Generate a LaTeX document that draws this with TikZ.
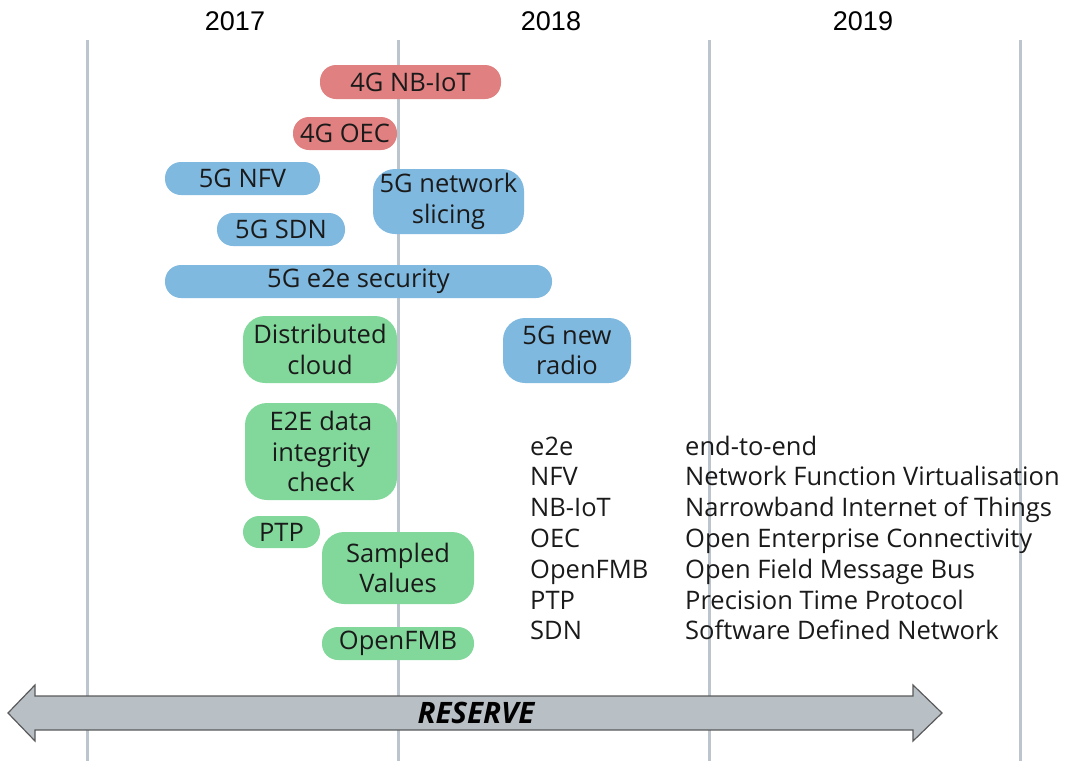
\documentclass[tikz,border=0pt]{standalone}
\usepackage{fontspec}
\setmainfont{Open Sans}
\newfontfamily\yearfont{Liberation Sans}
\definecolor{pillred}{HTML}{E08080}
\definecolor{pillblue}{HTML}{80B9E0}
\definecolor{pillgreen}{HTML}{82D89B}
\definecolor{gridgrey}{HTML}{BCC5CD}
\definecolor{arrowfill}{HTML}{B8C0C6}
\definecolor{arrowline}{HTML}{5A5A5A}
\definecolor{ink}{HTML}{1A1A1A}
\begin{document}
\begin{tikzpicture}[x=1pt,y=-1pt,
  gridline/.style={draw=gridgrey, line width=3pt},
  pill/.style={fill=#1, rounded corners=16pt, inner sep=0pt, align=center,
    text=ink, font=\fontsize{25.5}{30.5}\selectfont},
  bigpill/.style={pill=#1, rounded corners=22pt},
  year/.style={font=\yearfont\fontsize{27}{30}\selectfont, text=black},
  legendtext/.style={font=\fontsize{25.5}{30.8}\selectfont, text=ink, inner sep=0pt}]
\useasboundingbox (0,0) rectangle (1066,761);

% year grid
\foreach \x in {87,398,709,1020} \draw[gridline] (\x,40) -- (\x,761);
\node[year] (y2017) at (235,21) {2017};
\node[year] (y2018) at (551,21) {2018};
\node[year] (y2019) at (863,21) {2019};

% 4G items
\node[pill=pillred, minimum width=181pt, minimum height=34pt] (nbiot) at (410.5,82) {4G NB-IoT};
\node[pill=pillred, minimum width=104pt, minimum height=33pt] (oec) at (345,133.5) {4G OEC};

% 5G items
\node[pill=pillblue, minimum width=155pt, minimum height=33pt] (nfv) at (242.5,178.5) {5G NFV};
\node[bigpill=pillblue, minimum width=151pt, minimum height=65pt] (slicing) at (448.5,201.5) {5G network\\slicing};
\node[pill=pillblue, minimum width=128pt, minimum height=33pt] (sdn) at (281,229.5) {5G SDN};
\node[pill=pillblue, minimum width=387pt, minimum height=33pt] (security) at (358.5,281.5) {5G e2e security};
\node[bigpill=pillblue, minimum width=128pt, minimum height=65pt] (radio) at (567,350.5) {5G new\\radio};

% grid-edge items
\node[bigpill=pillgreen, minimum width=154pt, minimum height=67pt] (cloud) at (320,349.5) {Distributed\\cloud};
\node[bigpill=pillgreen, minimum width=152pt, minimum height=97pt] (integrity) at (321,451.5) {E2E data\\integrity\\check};
\node[pill=pillgreen, minimum width=77pt, minimum height=32pt] (ptp) at (281.5,532) {PTP};
\node[bigpill=pillgreen, minimum width=152pt, minimum height=72pt] (sampled) at (398,568) {Sampled\\Values};
\node[pill=pillgreen, minimum width=152pt, minimum height=33pt] (openfmb) at (398,643.5) {OpenFMB};

% abbreviations
\node[legendtext, anchor=base west] (legend) at (530,455) {%
  \begin{tabular}[t]{@{}p{155pt}@{}l@{}}
  e2e & end-to-end\\
  NFV & Network Function Virtualisation\\
  NB-IoT & Narrowband Internet of Things\\
  OEC & Open Enterprise Connectivity\\
  OpenFMB & Open Field Message Bus\\
  PTP & Precision Time Protocol\\
  SDN & Software Defined Network
  \end{tabular}};

% reserve span
\draw[fill=arrowfill, draw=arrowline, line width=1.2pt, line join=miter]
  (8,713) -- (35,685) -- (35,696) -- (913,696) -- (913,685) -- (942,713)
  -- (913,741) -- (913,730) -- (35,730) -- (35,741) -- cycle;
\node[font=\bfseries\itshape\fontsize{29.5}{30}\selectfont, text=black] (reserve) at (476,713) {RESERVE};
\end{tikzpicture}
\end{document}
